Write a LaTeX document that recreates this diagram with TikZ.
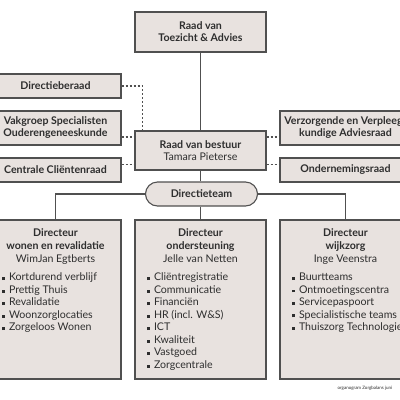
\documentclass[tikz,border=0pt]{standalone}
\usepackage{fontspec}
\setmainfont{Lato}
\usepackage{tikz}
\definecolor{boxfill}{HTML}{E8E2DF}
\definecolor{boxline}{HTML}{505050}
\definecolor{txt}{HTML}{2E2E2E}
\newcommand{\sq}{\rule[0.6pt]{3pt}{3pt}\hspace{4pt}}

\begin{document}
\begin{tikzpicture}[x=1pt,y=-1pt,line width=1.1pt,draw=boxline] 
\newcommand{\bw}{131pt}
\tikzstyle{box}=[draw,fill=boxfill,text=txt,minimum width=\bw,inner sep=0pt,align=center,font=\bfseries\fontsize{10.6}{12}\selectfont]
\tikzstyle{head}=[text=txt,inner sep=0pt,align=center,font=\bfseries\fontsize{10.6}{12.6}\selectfont]
\tikzstyle{list}=[text=txt,inner sep=0pt,align=left,font=\fontsize{10.6}{12.5}\selectfont]
\tikzstyle{dl}=[dash pattern=on 2pt off 2pt]
\useasboundingbox (0,0) rectangle (400,400);
\clip (0,0) rectangle (400,400);
\begin{scope}
\tikzstyle{every node}=[box]
\node[minimum height=40pt] (RvT) at (200.5,32) {Raad van\\Toezicht \& Advies};
\node[minimum height=24pt] (DB) at (55.5,86) {Directieberaad};
\node[minimum height=34pt] (VG) at (55.5,128) {Vakgroep Specialisten\\Ouderengeneeskunde};
\node[minimum height=24pt] (CCR) at (55.5,170) {Centrale Cliëntenraad};
\node[minimum height=39pt] (RvB) at (200.5,150.5) {Raad van bestuur\\{\mdseries Tamara Pieterse}};
\node[minimum height=34pt] (VVA) at (345.5,128) {Verzorgende en Verpleeg-\\kundige Adviesraad};
\node[minimum height=24pt] (OR) at (345.5,170) {Ondernemingsraad};
\node[rounded corners=12pt,minimum width=112pt,minimum height=24pt] (DT) at (201.5,194) {Directieteam};
\node[minimum height=159pt] (D1) at (55.5,299.5) {};
\node[minimum height=159pt] (D2) at (200.5,299.5) {};
\node[minimum height=159pt] (D3) at (345.5,299.5) {};
\end{scope}
% directeuren
\node[head,anchor=north] (H1) at ([yshift=-9pt]D1.north) {Directeur\\wonen en revalidatie\\{\mdseries WimJan Egtberts}};
\node[head,anchor=north] (H2) at ([yshift=-9pt]D2.north) {Directeur\\ondersteuning\\{\mdseries Jelle van Netten}};
\node[head,anchor=north] (H3) at ([yshift=-9pt]D3.north) {Directeur\\wijkzorg\\{\mdseries Inge Veenstra}};
\node[list,anchor=north west] (L1) at ([xshift=12pt,yshift=-53pt]D1.north west) {\sq Kortdurend verblijf\\\sq Prettig Thuis\\\sq Revalidatie\\\sq Woonzorglocaties\\\sq Zorgeloos Wonen};
\node[list,anchor=north west] (L2) at ([xshift=12pt,yshift=-53pt]D2.north west) {\sq Cliëntregistratie\\\sq Communicatie\\\sq Financiën\\\sq HR (incl. W\&S)\\\sq ICT\\\sq Kwaliteit\\\sq Vastgoed\\\sq Zorgcentrale};
\node[list,anchor=north west] (L3) at ([xshift=12pt,yshift=-53pt]D3.north west) {\sq Buurtteams\\\sq Ontmoetingscentra\\\sq Servicepaspoort\\\sq Specialistische teams\\\sq Thuiszorg Technologie};
\node[text=txt,inner sep=0pt,anchor=west,font=\fontsize{4.5}{5}\selectfont] (note) at (337,388) {organogram Zorgbalans juni};
% lijnen
\draw (RvT) -- (RvB);
\draw (RvB.south) -- (RvB.south |- DT.north);
\draw (D2.north |- DT.south) -- (D2.north);
\draw (DT.west) -| (D1.north);
\draw (DT.east) -| (D3.north);
\coordinate (b1) at ([yshift=-6.5pt]RvB.north west);
\coordinate (b2) at ([yshift=6.5pt]RvB.south west);
\coordinate (b3) at ([yshift=-6.5pt]RvB.north east);
\coordinate (b4) at ([yshift=6.5pt]RvB.south east);
\draw [dl] (DB.east) -| ([xshift=8pt]RvB.north west);
\draw [dl] (VG.east |- b1) -- (b1);
\draw [dl] (CCR.east |- b2) -- (b2);
\draw [dl] (b3) -- (b3 -| VVA.west);
\draw [dl] (b4) -- (b4 -| OR.west);
\end{tikzpicture}
\end{document}
